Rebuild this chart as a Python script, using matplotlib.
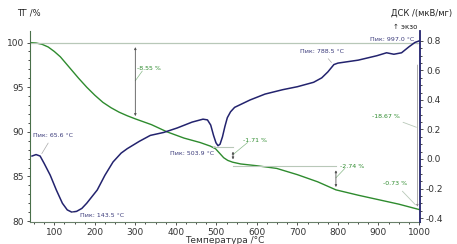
import matplotlib.pyplot as plt

# ТГ / ДСК кривые
tg_t = [40, 55, 70, 85, 100, 115, 130, 145, 160, 180, 200, 220, 240, 260, 280, 300, 340,
        378, 420, 460, 485, 498, 508, 518, 528, 540, 560, 600, 649, 700, 750, 795, 850,
        900, 950, 1000]
tg_v = [100.0, 99.95, 99.8, 99.5, 99.0, 98.4, 97.6, 96.8, 96.0, 95.0, 94.1, 93.3, 92.7,
        92.2, 91.8, 91.45, 90.8, 90.0, 89.3, 88.8, 88.4, 88.1, 87.6, 87.1, 86.8, 86.6,
        86.4, 86.2, 85.9, 85.2, 84.4, 83.5, 82.9, 82.4, 81.9, 81.3]

dsc_t = [45, 55, 65, 75, 90, 105, 120, 132, 143, 155, 168, 180, 193, 206, 225, 245, 265,
         280, 310, 337, 370, 403, 440, 467, 478, 486, 493, 499, 504, 509, 515, 521, 527,
         535, 545, 583, 620, 664, 700, 740, 760, 775, 790, 800, 850, 896, 920, 938, 957,
         975, 990, 1000]
dsc_v = [0.02, 0.03, 0.02, -0.03, -0.11, -0.21, -0.30, -0.345, -0.36, -0.355, -0.335,
         -0.30, -0.255, -0.21, -0.11, -0.02, 0.04, 0.07, 0.12, 0.16, 0.18, 0.21, 0.25,
         0.27, 0.265, 0.23, 0.16, 0.11, 0.09, 0.10, 0.15, 0.22, 0.28, 0.32, 0.35, 0.40,
         0.44, 0.47, 0.49, 0.52, 0.55, 0.59, 0.64, 0.65, 0.67, 0.70, 0.72, 0.71, 0.72,
         0.76, 0.79, 0.80]

# ступени потери массы: (температура, верх, низ, подпись)
steps_t = [300, 541, 795]
steps_top = [100.0, 88.3, 86.2]
steps_bot = [91.45, 86.6, 83.5]
steps_lbl = ["-8.55 %", "-1.71 %", "-2.74 %"]

peaks_t = [65.6, 143.5, 503.9, 788.5, 997.0]
peaks_lbl = ["Пик: 65.6 °C", "Пик: 143.5 °C", "Пик: 503.9 °C", "Пик: 788.5 °C", "Пик: 997.0 °C"]

green = "#2e8b2e"
navy = "#23236e"
grey = "#b8c8b8"

plt.rcParams['font.family'] = ['DejaVu Sans']
fig = plt.figure(figsize=(4.57, 2.44), dpi=100)
ax = fig.add_axes([0.0656, 0.0902, 0.853, 0.783])
ax2 = ax.twinx()

ax.plot(tg_t, tg_v, color=green, lw=1.0)
ax2.plot(dsc_t, dsc_v, color=navy, lw=1.1)

ax.set_xlim(40, 1002)
ax.set_ylim(79.9, 101.3)
ax2.set_ylim(-0.427, 0.868)

ax.set_xticks([100, 200, 300, 400, 500, 600, 700, 800, 900, 1000])
ax.set_xticks(range(50, 1001, 25), minor=True)
ax.set_yticks([80, 85, 90, 95, 100])
ax.set_yticks(range(80, 101), minor=True)
ax2.set_yticks([-0.4, -0.2, 0.0, 0.2, 0.4, 0.6, 0.8])
ax2.set_yticklabels(["-0.4", "-0.2", "0.0", "0.2", "0.4", "0.6", "0.8"])
ax2.set_yticks([i / 20 for i in range(-8, 17)], minor=True)

for a in (ax, ax2):
    a.tick_params(labelsize=6.5, length=2.5, width=0.6, pad=2, colors="#333333")
    a.tick_params(which="minor", length=1.5, width=0.5)
    a.spines['top'].set_visible(False)
ax.spines['left'].set_color("#4a704a")
ax.spines['bottom'].set_color("#6a806a")
ax.spines['right'].set_visible(False)
ax2.spines['left'].set_visible(False)
ax2.spines['bottom'].set_visible(False)
ax2.spines['right'].set_color(navy)
ax2.spines['right'].set_linewidth(1.3)

fig.text(0.037, 0.935, "ТГ /%", fontsize=6, color="#222222")
fig.text(0.99, 0.935, "ДСК /(мкВ/мг)", fontsize=6, color="#222222", ha="right")
ax.set_xlabel("Температура /°C", fontsize=6.5, labelpad=0, color="#333333")
ax.xaxis.set_label_coords(0.5, -0.075)

# линия 100 %
ax.axhline(100.0, color=grey, lw=0.9)
ax.plot([steps_t[1] - 50, steps_t[1]], [steps_top[1]] * 2, color=grey, lw=0.8)
ax.plot([steps_t[1], steps_t[2]], [steps_top[2]] * 2, color=grey, lw=0.8)

lbl_pos = [(305, 96.9), (565, 88.9), (805, 86.0)]
for t, top, bot, lbl, pos in zip(steps_t, steps_top, steps_bot, steps_lbl, lbl_pos):
    ax.annotate("", xy=(t, bot), xytext=(t, top - 0.2),
                arrowprops=dict(arrowstyle="<|-|>", color="#555555", lw=0.6,
                                mutation_scale=3))
    ax.text(pos[0], pos[1], lbl, fontsize=4.5, color=green)
    ax.plot([t, pos[0] + 12], [top - (top - bot) * 0.5, pos[1] - 0.1], color="#88b888", lw=0.5)

ax.annotate("-0.73 %", xy=(996, 81.6), xytext=(912, 84.0), fontsize=4.5, color=green,
            arrowprops=dict(arrowstyle="-", color=grey, lw=0.6))
ax.annotate("-18.67 %", xy=(1000, 90.4), xytext=(885, 91.6), fontsize=4.5, color=green,
            arrowprops=dict(arrowstyle="-", color=grey, lw=0.6))
ax.annotate("", xy=(996, 81.3), xytext=(996, 97.8),
            arrowprops=dict(arrowstyle="-|>", color="#888888", lw=0.5, mutation_scale=3))

# пики ДСК
peak_y = [0.02, -0.36, 0.09, 0.64, 0.78]
peak_txt = [(47, 0.15), (163, -0.39), (385, 0.03), (706, 0.72), (880, 0.80)]
for t, y, lbl, pos in zip(peaks_t, peak_y, peaks_lbl, peak_txt):
    ax2.annotate(lbl, xy=(t, y), xytext=pos, fontsize=4.5, color="#3a3a7a",
                 arrowprops=dict(arrowstyle="-", color="#aaaaaa", lw=0.5))

ax2.text(935, 0.88, "↑ экзо", fontsize=5, color="#222222")

fig.savefig("out.png", dpi=100)
